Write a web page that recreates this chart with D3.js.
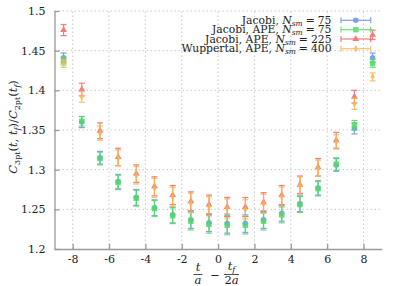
<!DOCTYPE html>
<html>
<head>
<meta charset="utf-8">
<script src="https://cdn.jsdelivr.net/npm/d3@7"></script>
<style>
  body { margin: 0; background: #fff; }
  text { font-family: "DejaVu Serif", serif; fill: #222; }
</style>
</head>
<body>
<script>
// time slices t/a - tf/2a
const tvals = [-8.5, -7.5, -6.5, -5.5, -4.5, -3.5, -2.5, -1.5, -0.5, 0.5, 1.5, 2.5, 3.5, 4.5, 5.5, 6.5, 7.5, 8.5];

// Jacobi, Nsm = 75
const jac75 = [1.441, 1.360, 1.315, 1.285, 1.265, 1.252, 1.243, 1.237, 1.233, 1.232, 1.232, 1.237, 1.245, 1.257, 1.277, 1.306, 1.352, 1.441];
const jac75Err = [0.006, 0.007, 0.008, 0.009, 0.010, 0.010, 0.010, 0.011, 0.011, 0.012, 0.011, 0.011, 0.010, 0.010, 0.009, 0.008, 0.007, 0.006];
// Jacobi, APE, Nsm = 75
const jacApe75 = [1.437, 1.361, 1.314, 1.284, 1.264, 1.251, 1.242, 1.235, 1.231, 1.230, 1.230, 1.235, 1.243, 1.256, 1.276, 1.307, 1.356, 1.434];
const jacApe75Err = [0.005, 0.006, 0.008, 0.009, 0.010, 0.010, 0.010, 0.011, 0.011, 0.012, 0.011, 0.011, 0.010, 0.010, 0.009, 0.008, 0.006, 0.005];
// Jacobi, APE, Nsm = 225
const jacApe225 = [1.476, 1.401, 1.349, 1.316, 1.295, 1.279, 1.268, 1.260, 1.256, 1.253, 1.253, 1.259, 1.268, 1.281, 1.303, 1.337, 1.392, 1.470];
const jacApe225Err = [0.007, 0.008, 0.010, 0.011, 0.011, 0.012, 0.012, 0.012, 0.012, 0.012, 0.012, 0.012, 0.012, 0.011, 0.011, 0.010, 0.008, 0.006];
// Wuppertal, APE, Nsm = 400
const wup400 = [1.434, 1.392, 1.346, 1.315, 1.293, 1.277, 1.266, 1.258, 1.254, 1.251, 1.250, 1.257, 1.266, 1.280, 1.302, 1.335, 1.383, 1.417];
const wup400Err = [0.005, 0.007, 0.009, 0.010, 0.011, 0.012, 0.012, 0.012, 0.012, 0.012, 0.012, 0.012, 0.012, 0.011, 0.010, 0.009, 0.007, 0.005];

const xTicks = [-8, -6, -4, -2, 0, 2, 4, 6, 8];
const yTicks = [1.2, 1.25, 1.3, 1.35, 1.4, 1.45, 1.5];

const series = [
  { name: "Jacobi, ", n: "75", vals: jac75, errs: jac75Err, color: "#6a8ee8", sym: d3.symbolCircle, size: 24 },
  { name: "Jacobi, APE, ", n: "75", vals: jacApe75, errs: jacApe75Err, color: "#50dc64", sym: d3.symbolSquare, size: 30 },
  { name: "Jacobi, APE, ", n: "225", vals: jacApe225, errs: jacApe225Err, color: "#f06666", sym: d3.symbolTriangle, size: 20 },
  { name: "Wuppertal, APE, ", n: "400", vals: wup400, errs: wup400Err, color: "#f8b850", sym: d3.symbolDiamond, size: 16 }
];

const W = 399, H = 286;
const FONT = "DejaVu Serif, serif";
const svg = d3.select("body").append("svg").attr("width", W).attr("height", H);

const x = d3.scaleLinear().domain([-9, 9]).range([54.5, 381.7]);
const y = d3.scaleLinear().domain([1.2, 1.5]).range([249, 11]);

// grid
const grid = svg.append("g").attr("stroke", "#c8c8c8").attr("stroke-dasharray", "1.5,2.5").attr("stroke-width", 1);
grid.selectAll("line.gx").data(xTicks).join("line")
  .attr("x1", d => x(d)).attr("x2", d => x(d)).attr("y1", y(1.2)).attr("y2", y(1.5));
grid.selectAll("line.gy").data(yTicks.slice(1)).join("line")
  .attr("x1", x(-9)).attr("x2", x(9)).attr("y1", d => y(d)).attr("y2", d => y(d));

// axes
const xAxis = svg.append("g").attr("transform", `translate(0,${y(1.2)})`)
  .call(d3.axisBottom(x).tickValues(xTicks).tickSizeInner(-5).tickSizeOuter(0).tickPadding(5).tickFormat(d => String(d)));
const yAxis = svg.append("g").attr("transform", `translate(${x(-9)},0)`)
  .call(d3.axisLeft(y).tickValues(yTicks).tickSizeInner(-5).tickSizeOuter(0).tickPadding(9).tickFormat(d => String(+d.toFixed(2))));
[xAxis, yAxis].forEach(a => {
  a.attr("font-family", FONT);
  a.select(".domain").attr("stroke", "#999").attr("stroke-width", 1.3);
  a.selectAll(".tick line").attr("stroke", "#999").attr("stroke-width", 1.3);
  a.selectAll(".tick text").attr("fill", "#222").style("font-size", "11px").style("font-family", FONT);
});
xAxis.selectAll(".tick text").attr("dy", "0.8em");

// data
series.forEach(s => {
  const g = svg.append("g").attr("stroke", s.color).attr("fill", s.color).attr("stroke-width", 1.2).attr("opacity", 0.85);
  tvals.forEach((t, i) => {
    const cx = x(t), lo = y(s.vals[i] - s.errs[i]), hi = y(s.vals[i] + s.errs[i]);
    g.append("line").attr("x1", cx).attr("x2", cx).attr("y1", lo).attr("y2", hi);
    g.append("line").attr("x1", cx - 3).attr("x2", cx + 3).attr("y1", lo).attr("y2", lo);
    g.append("line").attr("x1", cx - 3).attr("x2", cx + 3).attr("y1", hi).attr("y2", hi);
    g.append("path").attr("d", d3.symbol(s.sym, s.size)()).attr("stroke", "none")
      .attr("transform", `translate(${cx},${y(s.vals[i])})`);
  });
});

// legend
const legY = [20.3, 29.7, 39, 48.7];
series.forEach((s, i) => {
  const ly = legY[i];
  const t = svg.append("text").attr("x", 331.5).attr("y", ly + 3.5).attr("text-anchor", "end").style("font-size", "10.8px");
  t.append("tspan").text(s.name);
  t.append("tspan").attr("font-style", "italic").text("N");
  t.append("tspan").attr("font-style", "italic").attr("dy", 2).style("font-size", "7.5px").text("sm");
  t.append("tspan").attr("dy", -2).attr("dx", 3).text("=");
  t.append("tspan").attr("dx", 3).text(s.n);
  const g = svg.append("g").attr("stroke", s.color).attr("fill", s.color).attr("stroke-width", 1.2).attr("opacity", 0.85);
  g.append("line").attr("x1", 341).attr("x2", 370.7).attr("y1", ly).attr("y2", ly);
  g.append("line").attr("x1", 341).attr("x2", 341).attr("y1", ly - 3).attr("y2", ly + 3);
  g.append("line").attr("x1", 370.7).attr("x2", 370.7).attr("y1", ly - 3).attr("y2", ly + 3);
  g.append("path").attr("d", d3.symbol(s.sym, s.size)()).attr("stroke", "none")
    .attr("transform", `translate(355.8,${ly})`);
});

// y label
const yl = svg.append("text").attr("transform", "translate(17,127) rotate(-90)")
  .attr("text-anchor", "middle").style("font-size", "11.5px");
yl.append("tspan").attr("font-style", "italic").text("C");
yl.append("tspan").attr("dy", 2.5).style("font-size", "8px").text("3pt");
yl.append("tspan").attr("dy", -2.5).text("(");
yl.append("tspan").attr("font-style", "italic").text("t, t");
yl.append("tspan").attr("font-style", "italic").attr("dy", 2.5).style("font-size", "8px").text("f");
yl.append("tspan").attr("dy", -2.5).text(")/");
yl.append("tspan").attr("font-style", "italic").text("C");
yl.append("tspan").attr("dy", 2.5).style("font-size", "8px").text("2pt");
yl.append("tspan").attr("dy", -2.5).text("(");
yl.append("tspan").attr("font-style", "italic").text("t");
yl.append("tspan").attr("font-style", "italic").attr("dy", 2.5).style("font-size", "8px").text("f");
yl.append("tspan").attr("dy", -2.5).text(")");

// x label: t/a - tf/2a
const xl = svg.append("g").style("font-size", "11.5px");
xl.append("text").attr("x", 198).attr("y", 270.5).attr("text-anchor", "middle").attr("font-style", "italic").text("t");
xl.append("line").attr("x1", 193.5).attr("x2", 202.5).attr("y1", 274.5).attr("y2", 274.5).attr("stroke", "#222").attr("stroke-width", 0.8);
xl.append("text").attr("x", 198).attr("y", 284).attr("text-anchor", "middle").attr("font-style", "italic").text("a");
xl.append("text").attr("x", 215).attr("y", 278.5).attr("text-anchor", "middle").text("\u2212");
const num = xl.append("text").attr("x", 231.5).attr("y", 270).attr("text-anchor", "middle").attr("font-style", "italic");
num.append("tspan").text("t");
num.append("tspan").attr("dy", 1.5).style("font-size", "8px").text("f");
xl.append("line").attr("x1", 224).attr("x2", 239).attr("y1", 274.5).attr("y2", 274.5).attr("stroke", "#222").attr("stroke-width", 0.8);
const den = xl.append("text").attr("x", 231.5).attr("y", 284).attr("text-anchor", "middle");
den.append("tspan").text("2");
den.append("tspan").attr("font-style", "italic").text("a");
</script>
</body>
</html>
